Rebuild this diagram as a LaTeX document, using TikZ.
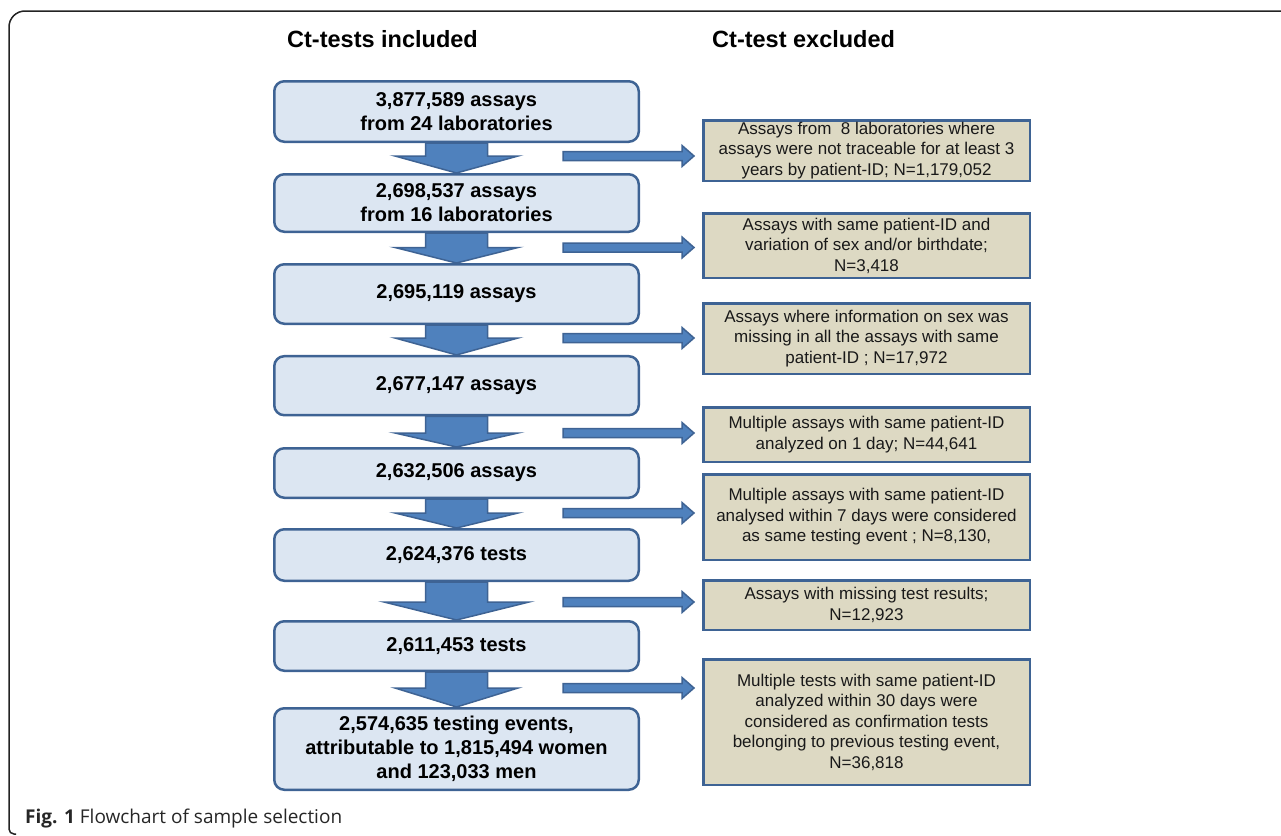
\documentclass[tikz,border=0pt]{standalone}
\usepackage{fontspec}
\setmainfont{Liberation Sans}
\newfontfamily\capfont{Open Sans}
\usepackage{tikz}
\usetikzlibrary{calc,backgrounds}
\definecolor{boxblue}{RGB}{220,230,242}
\definecolor{edgeblue}{RGB}{62,99,148}
\definecolor{arrowblue}{RGB}{79,129,189}
\definecolor{boxtan}{RGB}{221,217,195}
\definecolor{framegray}{RGB}{35,35,35}

\begin{document}
\begin{tikzpicture}[x=1pt,y=-1pt]
\tikzstyle{incl}=[draw=edgeblue,fill=boxblue,line width=2.5pt,rounded corners=10pt,minimum width=364.5pt,align=center,inner sep=0pt,font=\bfseries\fontsize{20}{24}\selectfont]
\tikzstyle{excl}=[draw=edgeblue,fill=boxtan,line width=2.5pt,minimum width=326.5pt,align=center,inner sep=0pt,text=black!90,font=\fontsize{17}{20.5}\selectfont]
\tikzstyle{flow}=[draw=edgeblue,fill=arrowblue,line width=1.5pt,line join=miter]
\tikzstyle{title}=[anchor=west,inner sep=0pt,font=\bfseries\fontsize{23.5}{28}\selectfont]
\useasboundingbox (0,0) rectangle (1281,835);
% frame
\draw[framegray,line width=1.5pt,rounded corners=16pt] (1281,11) -- (9,11) [rounded corners=5pt] -- (9,834) -- (16,834);
% headings
\node[title] (tin) at (287,39) {Ct-tests included};
\node[title] (tex) at (712,39) {Ct-test excluded};
% included
\node[incl,minimum height=60.5pt] (in1) at (456.5,111.5) {3,877,589 assays\\from 24 laboratories};
\node[incl,minimum height=57.5pt] (in2) at (456.5,203) {2,698,537 assays\\from 16 laboratories};
\node[incl,minimum height=59.5pt] (in3) at (456.5,294) {2,695,119 assays};
\node[incl,minimum height=59pt] (in4) at (456.5,385.7) {2,677,147 assays};
\node[incl,minimum height=49.5pt] (in5) at (456.5,473) {2,632,506 assays};
\node[incl,minimum height=51.5pt] (in6) at (456.5,555) {2,624,376 tests};
\node[incl,minimum height=49.5pt] (in7) at (456.5,646) {2,611,453 tests};
\node[incl,minimum height=81.5pt] (in8) at (456.5,749) {2,574,635 testing events,\\attributable to 1,815,494 women\\and 123,033 men};
% excluded
\node[excl,minimum height=60.5pt] (ex1) at (866.5,150.5) {Assays from~ 8 laboratories where\\assays were not traceable for at least 3\\years by patient-ID; N=1,179,052};
\node[excl,minimum height=64.5pt] (ex2) at (866.5,245.5) {Assays with same patient-ID and\\variation of sex and/or birthdate;\\N=3,418};
\node[excl,minimum height=70.5pt] (ex3) at (866.5,338.5) {Assays where information on sex was\\missing in all the assays with same\\patient-ID ; N=17,972};
\node[excl,minimum height=54.5pt] (ex4) at (866.5,434.5) {Multiple assays with same patient-ID\\analyzed on 1 day; N=44,641};
\node[excl,minimum height=85.5pt] (ex5) at (866.5,517) {Multiple assays with same patient-ID\\analysed within 7 days were considered\\as same testing event ; N=8,130,};
\node[excl,minimum height=49.5pt] (ex6) at (866.5,605) {Assays with missing test results;\\N=12,923};
\node[excl,minimum height=125.5pt] (ex7) at (866.5,722) {Multiple tests with same patient-ID\\analyzed within 30 days were\\considered as confirmation tests\\belonging to previous testing event,\\N=36,818};
% steps
\coordinate (s1) at (563,156);
\coordinate (s2) at (563,247.5);
\coordinate (s3) at (563,338);
\coordinate (s4) at (563,433);
\coordinate (s5) at (563,513);
\coordinate (s6) at (563,602);
\coordinate (s7) at (563,688);
\begin{scope}[on background layer]
\foreach \i/\j/\hw in {1/2/61.5,2/3/61.5,3/4/61.5,4/5/61.5,5/6/61.5,6/7/72.5,7/8/61.5}{
  \draw[flow] ($(in\i.south)+(-31,0)$) -- ($(in\i.south |- s\i)+(-31,0)$) -- ($(in\i.south |- s\i)+(-\hw,0)$) -- (in\j.north) -- ($(in\i.south |- s\i)+(\hw,0)$) -- ($(in\i.south |- s\i)+(31,0)$) -- ($(in\i.south)+(31,0)$) -- cycle;
  \draw[flow] ($(s\i)+(0,-4.5)$) -- ($(ex\i.west |- s\i)+(-20,-4.5)$) -- ($(ex\i.west |- s\i)+(-20,-10.5)$) -- ($(ex\i.west |- s\i)+(-8,0)$) -- ($(ex\i.west |- s\i)+(-20,10.5)$) -- ($(ex\i.west |- s\i)+(-20,4.5)$) -- ($(s\i)+(0,4.5)$) -- cycle;
}
\end{scope}
% caption
\node[anchor=base west,inner sep=0pt,text=black!85,font=\capfont\fontsize{19}{23}\selectfont] (cap) at (25,823) {\textbf{Fig. 1} Flowchart of sample selection};
\end{tikzpicture}
\end{document}
